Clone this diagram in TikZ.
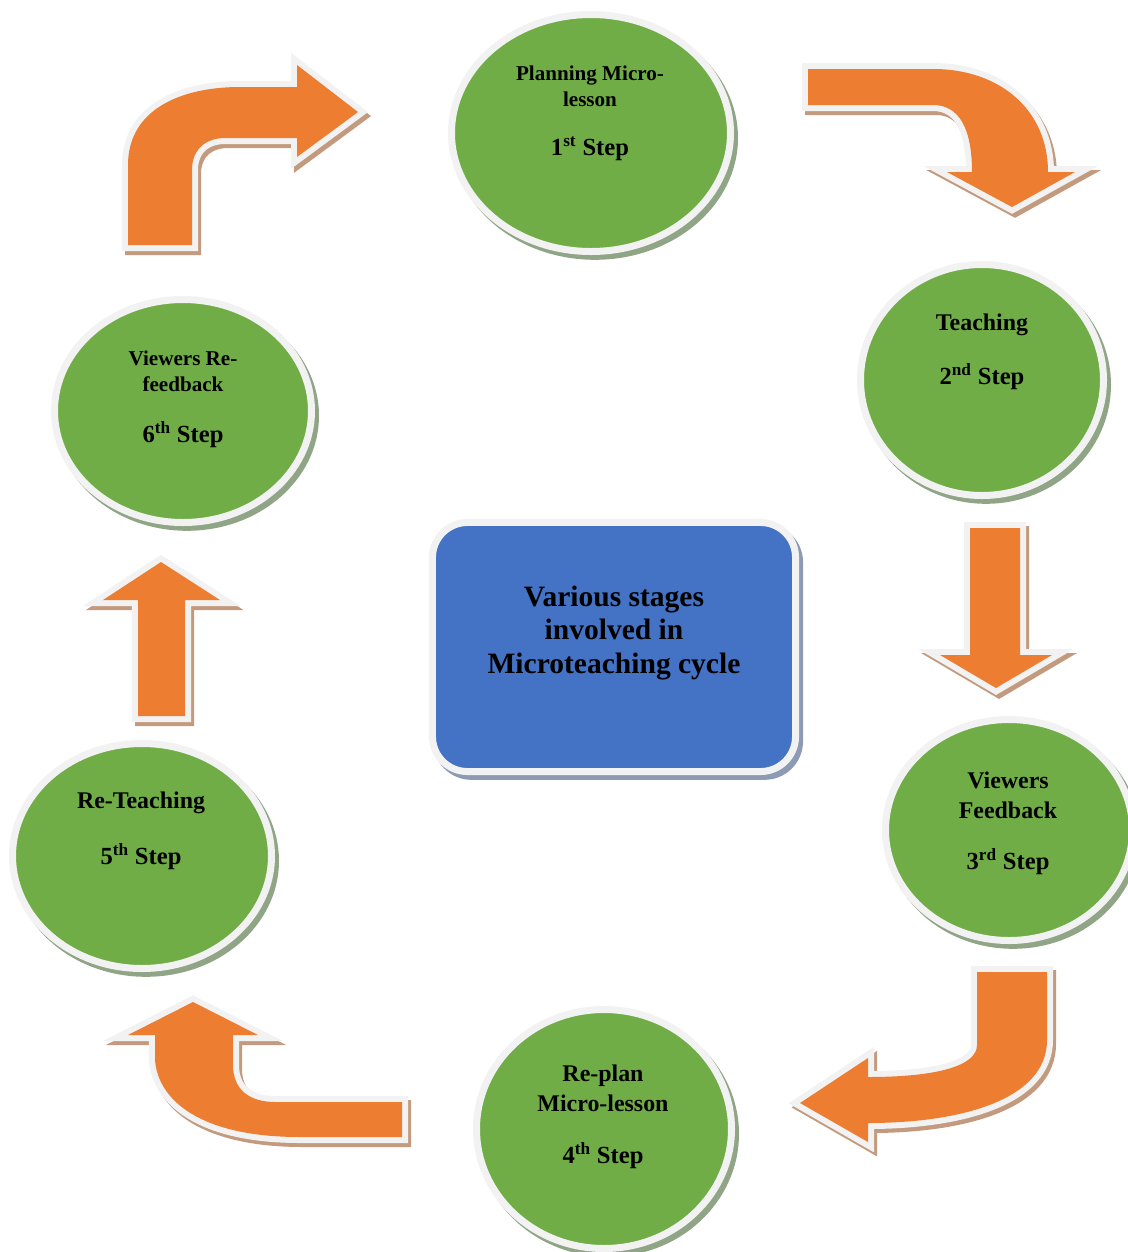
\documentclass[tikz,border=0pt]{standalone}
\usepackage{fontspec}
\setmainfont{Liberation Serif}
\usepackage{xcolor}
\usepackage{tikz}
\usetikzlibrary{shapes.geometric}
\definecolor{leafgreen}{HTML}{70AD47}
\definecolor{bendorange}{HTML}{ED7D31}
\definecolor{hubblue}{HTML}{4472C4}
\definecolor{rimwhite}{HTML}{F2F2F2}
\definecolor{bendshade}{HTML}{C49A7E}
\definecolor{leafshade}{HTML}{8FA585}
\definecolor{hubshade}{HTML}{8C9AB4}
\newcommand{\stepleaf}[5]{%
  \node[leaf,minimum width={(2*#4+7)*0.025cm},minimum height={(2*#5+7)*0.025cm}]
    (#1) at (#2,#3) {};}
\newcommand{\bendarrow}[1]{%
  \fill[bendorange,
    preaction={fill=bendshade,draw=bendshade,line width=0.3cm,
      transform canvas={xshift=0.075cm,yshift=-0.1cm}},
    preaction={draw=rimwhite,line width=0.3cm}] #1;}
\begin{document}
\begin{tikzpicture}[x=0.025cm,y=-0.025cm,
    leaf/.style={ellipse,inner sep=0pt,fill=leafgreen,draw=rimwhite,line width=0.175cm,
      preaction={fill=leafshade,draw=leafshade,line width=0.175cm,
        transform canvas={xshift=0.1cm,yshift=-0.12cm}}},
    hub/.style={rectangle,rounded corners=0.875cm,inner sep=0pt,fill=hubblue,
      draw=rimwhite,line width=0.175cm,
      preaction={fill=hubshade,draw=hubshade,line width=0.175cm,
        transform canvas={xshift=0.1cm,yshift=-0.12cm}}},
    tag/.style={align=center,inner sep=0pt,font=\fontsize{17}{21.3}\selectfont\bfseries},
    tagsmall/.style={align=center,inner sep=0pt,font=\fontsize{15}{18.4}\selectfont\bfseries},
    stepno/.style={inner sep=0pt,font=\fontsize{17.5}{21}\selectfont\bfseries},
    hubtext/.style={align=center,inner sep=0pt,font=\fontsize{21}{24}\selectfont\bfseries}]
  \useasboundingbox (0,0) rectangle (1128,1252);
  \clip (0,0) rectangle (1128,1252);
  \bendarrow{(808,69) -- (933,69) .. controls (1000,69) and (1048,110) .. (1048,172)
    -- (1075,172) -- (1012,207) -- (947,172) -- (972,172)
    .. controls (972,130) and (960,105) .. (933,105) -- (808,105) -- cycle}
  \bendarrow{(970,528) -- (1020,528) -- (1020,655) -- (1052,655) -- (996,688)
    -- (940,655) -- (970,655) -- cycle}
  \bendarrow{(977,972) -- (1047,972) -- (1047,1040)
    .. controls (1047,1100) and (960,1123) .. (868,1123) -- (868,1142) -- (800,1103)
    -- (868,1058) -- (868,1077) .. controls (940,1077) and (977,1065) .. (977,1045) -- cycle}
  \bendarrow{(193,1002) -- (258,1035) -- (233,1035) -- (233,1065)
    .. controls (233,1090) and (250,1102) .. (275,1102) -- (402,1102) -- (402,1137)
    -- (300,1137) .. controls (200,1137) and (158,1100) .. (155,1060) -- (155,1035)
    -- (128,1035) -- cycle}
  \bendarrow{(161,562) -- (220,600) -- (185,600) -- (185,716) -- (138,716)
    -- (138,600) -- (103,600) -- cycle}
  \bendarrow{(128,245) -- (128,165) .. controls (128,110) and (180,87) .. (240,87)
    -- (297,87) -- (297,65) -- (358,112) -- (297,157) -- (297,138) -- (225,138)
    .. controls (205,138) and (192,150) .. (192,170) -- (192,245) -- cycle}
  \stepleaf{plan}{591}{133}{136}{115}
  \stepleaf{teach}{982}{380}{118}{112}
  \stepleaf{feed}{1009}{830}{120}{107}
  \stepleaf{replan}{604}{1129}{124}{116}
  \stepleaf{reteach}{142}{856}{126}{109}
  \stepleaf{refeed}{183}{411}{125}{108}
  \node[hub,minimum width=9.075cm,minimum height=6.225cm] (cycle) at (614,647) {};
  \node[hubtext] (cycletext) at (614,633) {Various stages\\involved in\\Microteaching cycle};
  \node[tagsmall] (plantag) at (590,86) {Planning Micro-\\lesson};
  \node[stepno] (planno) at (590,149) {1\textsuperscript{st} Step};
  \node[tag] (teachtag) at (982,325) {Teaching};
  \node[stepno] (teachno) at (982,377) {2\textsuperscript{nd} Step};
  \node[tag] (feedtag) at (1008,795) {Viewers\\Feedback};
  \node[stepno] (feedno) at (1008,862) {3\textsuperscript{rd} Step};
  \node[tag] (replantag) at (603,1088) {Re-plan\\Micro-lesson};
  \node[stepno] (replanno) at (603,1156) {4\textsuperscript{th} Step};
  \node[tag] (reteachtag) at (141,803) {Re-Teaching};
  \node[stepno] (reteachno) at (141,857) {5\textsuperscript{th} Step};
  \node[tagsmall] (refeedtag) at (183,371) {Viewers Re-\\feedback};
  \node[stepno] (refeedno) at (183,435) {6\textsuperscript{th} Step};
\end{tikzpicture}
\end{document}
